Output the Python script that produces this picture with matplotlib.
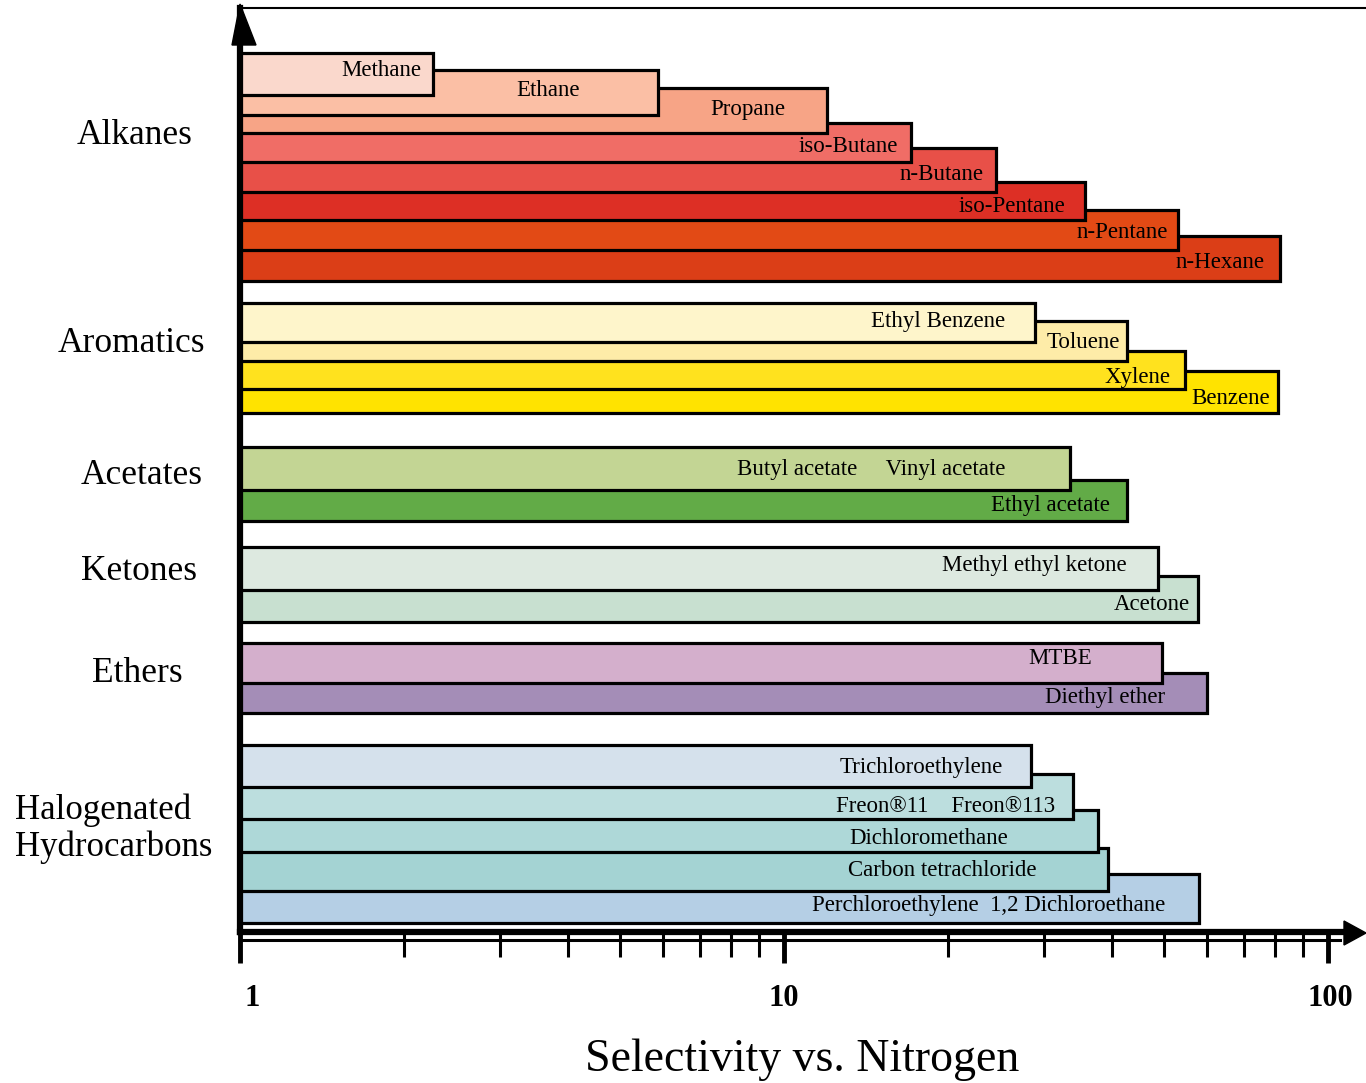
import numpy as np
import matplotlib
matplotlib.use("Agg")
import matplotlib.pyplot as plt
from matplotlib.patches import Polygon

plt.rcParams['font.family'] = ['Liberation Serif', 'DejaVu Serif']

# data (selectivity vs. nitrogen, log scale)
groups = ["Alkanes", "Aromatics", "Acetates", "Ketones", "Ethers",
          "Halogenated\nHydrocarbons"]
names = ["Methane", "Ethane", "Propane", "iso-Butane", "n-Butane",
         "iso-Pentane", "n-Pentane", "n-Hexane",
         "Ethyl Benzene", "Toluene", "Xylene", "Benzene",
         "Butyl acetate     Vinyl acetate", "Ethyl acetate",
         "Methyl ethyl ketone", "Acetone",
         "MTBE", "Diethyl ether",
         "Trichloroethylene", "Freon\u00ae11    Freon\u00ae113", "Dichloromethane",
         "Carbon tetrachloride", "Perchloroethylene  1,2 Dichloroethane"]
selectivity = [2.26, 5.87, 12.0, 17.1, 24.5, 35.7, 53.0, 81.6,
               28.9, 42.7, 54.6, 80.9,
               33.6, 42.7,
               48.7, 57.7,
               49.5, 59.9,
               28.5, 34.0, 37.8, 39.4, 57.9]
ticks = [1, 10, 100]
tick_labels = ['1', '10', '100']
colors = ["#FAD8CC", "#FBBFA5", "#F7A486", "#F06D66", "#E85048", "#DD2F25", "#E24A15", "#DB3E17",
          "#FEF5CB", "#FEECA8", "#FFE21E", "#FFE300",
          "#C3D594", "#62AB47",
          "#DDE9E0", "#C8E0D0",
          "#D4AFCC", "#A48DB7",
          "#D5E1EC", "#BCDEDE", "#AED8D8", "#A4D3D3", "#B5CFE5"]

# layout (rows in pixel units, top to bottom)
bar_top = [53, 70, 88, 123, 148, 182, 210, 236,
           303, 321, 351, 371,
           447, 480,
           547, 576,
           643, 673,
           745, 774, 810, 848, 874]
bar_bot = [95, 115, 133, 162, 192, 220, 250, 281,
           342, 361, 389, 413,
           490, 521,
           590, 622,
           683, 713,
           787, 819, 852, 891, 923]
label_row = [71, 91, 110, 146, 174, 206, 232, 262,
             322, 342, 377, 398,
             470, 505,
             566, 604,
             658, 697,
             767, 806, 838, 870, 905]
label_dx = [-11, -78, -42, -13, -12, -19, -10, -15,
            -30, -7, -15, -8,
            -65, -17,
            -31, -8,
            -70, -42,
            -29, -18, -90, -71, -34]
group_pos = [(135, 135), (131, 343), (142, 475), (139, 571), (137, 674), (15, 829)]

W, H = 1366, 1083
fig = plt.figure(figsize=(W/100, H/100), dpi=100)
ax = fig.add_axes([240/W, (H-932)/H, (W-240)/W, (932-8)/H])
decade = 544.0
ax.set_xscale('log')
ax.set_xlim(1, 10**((W-240)/decade))
ax.set_ylim(932, 8)

n = len(names)
for i in range(n):
    top, bot = bar_top[i], bar_bot[i]
    ax.barh((top+bot)/2, selectivity[i]-1, left=1, height=bot-top,
            color=colors[i], edgecolor='black', linewidth=2.3,
            zorder=3 + (n-i)*0.01)
    ax.annotate(names[i], xy=(selectivity[i], label_row[i]),
                xytext=(label_dx[i]*0.72, 0), textcoords='offset points',
                ha='right', va='center', fontsize=16.5, zorder=5)

for g, (gx, gy) in zip(groups, group_pos):
    if '\n' in g:
        fig.text(gx/W, 1-gy/H, g, ha='left', va='center', fontsize=25,
                 linespacing=1.15)
    else:
        fig.text(gx/W, 1-gy/H, g, ha='center', va='center', fontsize=25.5)

# spines
ax.spines['right'].set_visible(False)
ax.spines['top'].set_linewidth(1.5)
ax.spines['left'].set_linewidth(4.5)
ax.spines['left'].set_zorder(10)
ax.spines['bottom'].set_linewidth(4.5)
ax.spines['bottom'].set_zorder(10)
ax.spines['bottom'].set_bounds(1, 10**((1345-240)/decade))
ax.set_yticks([])

# second thin line under the axis
ax.plot([1, 10**((1340-240)/decade)], [940, 940], color='black', lw=2.2,
        clip_on=False, zorder=10)

# arrows
xr = 10**((1366-240)/decade)
xa = 10**((1344-240)/decade)
ax.add_patch(Polygon([[xa, 921], [xr, 933], [xa, 945]], closed=True,
                     color='black', clip_on=False, zorder=11))
xl = 10**((232-240)/decade)
xm = 10**((256-240)/decade)
ax.add_patch(Polygon([[xl, 45], [1.0, 4], [xm, 45]], closed=True,
                     color='black', clip_on=False, zorder=11))

ax.set_xticks(ticks)
ax.set_xticklabels([])
minor = [2, 3, 4, 5, 6, 7, 8, 9, 20, 30, 40, 50, 60, 70, 80, 90]
ax.set_xticks(minor, minor=True)
ax.xaxis.set_minor_formatter(plt.NullFormatter())
ax.tick_params(axis='x', which='major', direction='out', length=22, width=3.5)
ax.tick_params(axis='x', which='minor', direction='out', length=18, width=2.2)
for t, lab, dx in zip(ticks, tick_labels, [9, 0, 2]):
    ax.annotate(lab, xy=(t, 998), xytext=(dx, 0), textcoords='offset points',
                ha='center', va='center', fontsize=22, fontweight='bold',
                annotation_clip=False)

fig.text(802/W, 1-1071/H, 'Selectivity vs. Nitrogen', fontsize=33,
         ha='center', va='baseline')

fig.savefig('out.png', dpi=100)
